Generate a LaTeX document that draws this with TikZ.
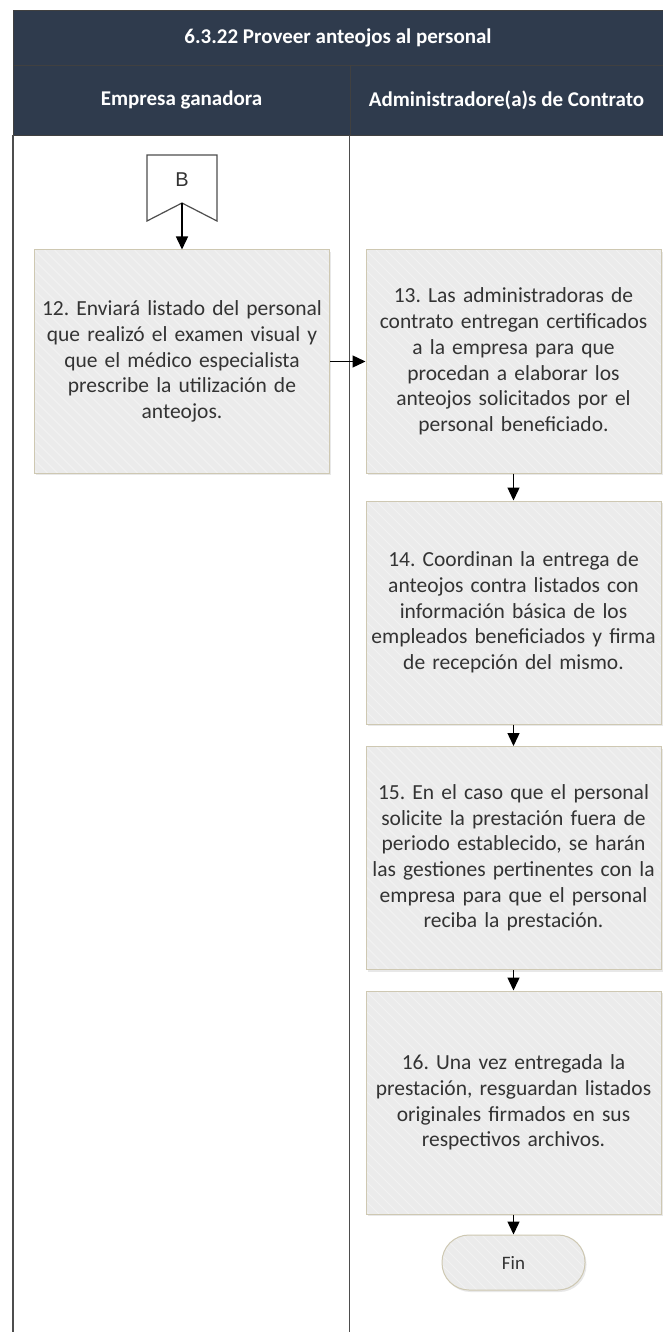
\documentclass[tikz,border=0pt]{standalone}
\usepackage{fontspec}
\setmainfont{Carlito}
\newfontfamily\arialfont{Liberation Sans}
\usetikzlibrary{positioning,shadows,arrows.meta}
\frenchspacing

\definecolor{azulcab}{HTML}{2F3B4D}
\definecolor{grisact}{HTML}{EBEBEB}
\definecolor{rayaact}{HTML}{F2F2F2}
\definecolor{bordeact}{HTML}{CEC8B2}
\definecolor{textoact}{HTML}{333333}
\definecolor{lineacarril}{HTML}{4D4D4D}

\tikzset{
  cabecera/.style={draw=black!75, fill=azulcab, text=white, line width=0.8pt,
    inner sep=0pt, font=\bfseries\fontsize{21}{25}\selectfont},
  rayado/.style={path picture={
    \foreach \k in {-40,...,40}
      \draw[rayaact, line width=0.8pt]
        ([xshift=\k*10pt]path picture bounding box.north west) -- ++(300pt,-300pt);}},
  actividad/.style={draw=bordeact, fill=grisact, line width=1pt, text=textoact,
    minimum width=295pt, minimum height=223pt, text width=286pt, align=center,
    inner sep=0pt, font=\fontsize{21.5}{25.7}\selectfont, rayado,
    drop shadow={opacity=0.18, shadow xshift=1.5pt, shadow yshift=-2pt}},
  terminal/.style={draw=bordeact, fill=grisact, line width=1pt, text=textoact,
    rounded corners=27pt, minimum width=143pt, minimum height=55pt,
    font=\fontsize{19}{21}\selectfont, rayado,
    drop shadow={opacity=0.18, shadow xshift=1.5pt, shadow yshift=-2pt}},
  flecha/.style={-{Triangle[length=13pt,width=12pt]}, line width=1.4pt, black},
  carrilborde/.style={lineacarril, line width=2pt}
}

\begin{document}
\begin{tikzpicture}[x=1pt,y=-1pt]
  \useasboundingbox[fill=white] (0,0) rectangle (663,1332);
  % header of the diagram
  \node[cabecera, minimum width=650pt, minimum height=55pt] (titulo) at (338,37.5)
    {6.3.22 Proveer anteojos al personal};
  \node[cabecera, minimum width=337pt, minimum height=70pt] (empresa) at (181.5,100)
    {Empresa ganadora};
  \node[cabecera, minimum width=313pt, minimum height=70pt] (admin) at (506.5,100)
    {Administradore(a)s de Contrato};
  % lanes
  \draw[carrilborde] (empresa.south west) -- (empresa.south west |- 0,1332);
  \draw[carrilborde, line width=1.6pt] (admin.south west) -- (admin.south west |- 0,1332);
  % off-page connector B
  \draw[lineacarril, line width=1.2pt, fill=white]
    (147,155) -- (217,155) -- (217,221) -- (182,203) -- (147,221) -- cycle;
  \node[font=\arialfont\fontsize{20}{22}\selectfont, text=textoact] (conB) at (182,180) {B};
  \coordinate (conBpunta) at (182,203);
  % activities
  \node[actividad] (act12) at (182,361.5)
    {12. Enviará listado del personal\\que realizó el examen visual y\\que el médico especialista\\prescribe la utilización de\\anteojos.};
  \node[actividad] (act13) at (513.5,361.5)
    {13. Las administradoras de\\contrato entregan certificados\\a la empresa para que\\procedan a elaborar los\\anteojos solicitados por el\\personal beneficiado.};
  \node[actividad] (act14) at (513.5,612.5)
    {14. Coordinan la entrega de\\anteojos contra listados con\\información básica de los\\empleados beneficiados y firma\\de recepción del mismo.};
  \node[actividad] (act15) at (513.5,858)
    {15. En el caso que el personal\\solicite la prestación fuera de\\periodo establecido, se harán\\las gestiones pertinentes con la\\empresa para que el personal\\reciba la prestación.};
  \node[actividad] (act16) at (513.5,1102.5)
    {16. Una vez entregada la\\prestación, resguardan listados\\originales firmados en sus\\respectivos archivos.};
  \node[terminal] (fin) at (513.5,1262.5) {Fin};
  % connectors
  \draw[flecha] (conBpunta) -- (act12);
  \draw[flecha] (act12) -- (act13);
  \draw[flecha] (act13) -- (act14);
  \draw[flecha] (act14) -- (act15);
  \draw[flecha] (act15) -- (act16);
  \draw[flecha] (act16) -- (fin);
\end{tikzpicture}
\end{document}
